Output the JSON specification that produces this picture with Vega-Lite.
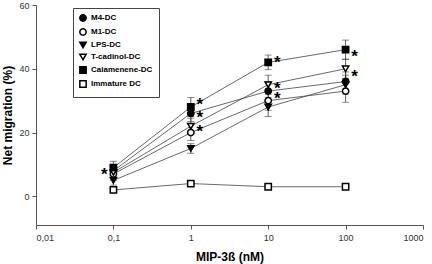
{
  "$schema": "https://vega.github.io/schema/vega-lite/v6.json",
  "width": 387,
  "height": 220,
  "autosize": {"type": "none"},
  "padding": {"left": 36, "top": 5, "right": 9, "bottom": 39},
  "background": "white",
  "config": {"view": {"stroke": null}, "font": "Liberation Sans"},
  "datasets": {
    "pts": [
      {"series": "M4-DC", "conc": 0.1, "value": 8, "err": 2},
      {"series": "M4-DC", "conc": 1, "value": 26, "err": 2.5},
      {"series": "M4-DC", "conc": 10, "value": 33, "err": 3},
      {"series": "M4-DC", "conc": 100, "value": 36, "err": 3},
      {"series": "M1-DC", "conc": 0.1, "value": 7, "err": 2},
      {"series": "M1-DC", "conc": 1, "value": 20, "err": 2.5},
      {"series": "M1-DC", "conc": 10, "value": 30, "err": 3},
      {"series": "M1-DC", "conc": 100, "value": 33, "err": 3.5},
      {"series": "LPS-DC", "conc": 0.1, "value": 5, "err": 1.5},
      {"series": "LPS-DC", "conc": 1, "value": 15, "err": 1.5},
      {"series": "LPS-DC", "conc": 10, "value": 28, "err": 3},
      {"series": "LPS-DC", "conc": 100, "value": 35, "err": 3},
      {"series": "T-cadinol-DC", "conc": 0.1, "value": 7.5, "err": 2},
      {"series": "T-cadinol-DC", "conc": 1, "value": 22, "err": 2.5},
      {"series": "T-cadinol-DC", "conc": 10, "value": 35, "err": 3},
      {"series": "T-cadinol-DC", "conc": 100, "value": 40, "err": 3},
      {"series": "Calamenene-DC", "conc": 0.1, "value": 9, "err": 2},
      {"series": "Calamenene-DC", "conc": 1, "value": 28, "err": 3},
      {"series": "Calamenene-DC", "conc": 10, "value": 42, "err": 2.3},
      {"series": "Calamenene-DC", "conc": 100, "value": 46, "err": 3},
      {"series": "Immature DC", "conc": 0.1, "value": 2, "err": 0.5},
      {"series": "Immature DC", "conc": 1, "value": 4, "err": 0.5},
      {"series": "Immature DC", "conc": 10, "value": 3, "err": 0.5},
      {"series": "Immature DC", "conc": 100, "value": 3, "err": 0.5}
    ],
    "stars": [
      {"conc": 1, "value": 30.5, "side": "right"},
      {"conc": 1, "value": 26.3, "side": "right"},
      {"conc": 1, "value": 22.2, "side": "right"},
      {"conc": 10, "value": 43.6, "side": "right"},
      {"conc": 10, "value": 35.6, "side": "right"},
      {"conc": 10, "value": 32.4, "side": "right"},
      {"conc": 100, "value": 45.6, "side": "right"},
      {"conc": 100, "value": 39.4, "side": "right"},
      {"conc": 0.1, "value": 8.6, "side": "left"}
    ]
  },
  "layer": [
    {
      "data": {"name": "pts"},
      "transform": [
        {"calculate": "datum.value - datum.err", "as": "lo"},
        {"calculate": "datum.value + datum.err", "as": "hi"}
      ],
      "layer": [
        {
          "mark": {"type": "rule", "color": "#333", "strokeWidth": 0.8},
          "encoding": {
            "x": {"field": "conc", "type": "quantitative"},
            "y": {"field": "lo", "type": "quantitative"},
            "y2": {"field": "hi"}
          }
        },
        {
          "mark": {"type": "tick", "color": "#333", "size": 7, "thickness": 0.8, "orient": "horizontal"},
          "encoding": {
            "x": {"field": "conc", "type": "quantitative"},
            "y": {"field": "lo", "type": "quantitative"}
          }
        },
        {
          "mark": {"type": "tick", "color": "#333", "size": 7, "thickness": 0.8, "orient": "horizontal"},
          "encoding": {
            "x": {"field": "conc", "type": "quantitative"},
            "y": {"field": "hi", "type": "quantitative"}
          }
        }
      ]
    },
    {
      "data": {"name": "pts"},
      "mark": {"type": "line", "color": "#444", "strokeWidth": 0.8},
      "encoding": {
        "x": {"field": "conc", "type": "quantitative"},
        "y": {"field": "value", "type": "quantitative"},
        "detail": {"field": "series"}
      }
    },
    {
      "data": {"name": "pts"},
      "mark": {"type": "point", "strokeWidth": 1.5, "opacity": 1, "size": 40},
      "encoding": {
        "x": {
          "field": "conc", "type": "quantitative",
          "scale": {"type": "log", "domain": [0.01, 1000], "nice": false},
          "axis": {
            "values": [0.01, 0.1, 1, 10, 100, 1000],
            "labelExpr": "replace(format(datum.value, '~g'), '.', ',')",
            "title": "MIP-3ß (nM)",
            "titleFontSize": 12, "titleFontWeight": "bold", "titlePadding": 9,
            "labelFontSize": 9, "labelColor": "#333", "labelPadding": 4,
            "grid": false, "domainColor": "#555", "tickColor": "#555", "tickSize": 4
          }
        },
        "y": {
          "field": "value", "type": "quantitative",
          "scale": {"domain": [-9, 60], "nice": false, "zero": false},
          "axis": {
            "values": [0, 10, 20, 30, 40, 50, 60],
            "title": "Net migration (%)",
            "titleFontSize": 12, "titleFontWeight": "bold", "titlePadding": 4,
            "labelFontSize": 9, "labelColor": "#333", "labelPadding": 3,
            "grid": false, "domainColor": "#555", "tickColor": "#555", "tickSize": 4
          }
        },
        "shape": {
          "field": "series", "type": "nominal",
          "scale": {
            "domain": ["M4-DC", "M1-DC", "LPS-DC", "T-cadinol-DC", "Calamenene-DC", "Immature DC"],
            "range": ["circle", "circle", "triangle-down", "triangle-down", "square", "square"]
          },
          "legend": {
            "title": null, "orient": "none", "legendX": 37, "legendY": 3,
            "strokeColor": "#444", "padding": 6, "labelFontSize": 8, "labelFontWeight": "bold",
            "symbolSize": 40, "symbolStrokeWidth": 1.5, "rowPadding": 0
          }
        },
        "fill": {
          "field": "series", "type": "nominal",
          "scale": {
            "domain": ["M4-DC", "M1-DC", "LPS-DC", "T-cadinol-DC", "Calamenene-DC", "Immature DC"],
            "range": ["black", "white", "black", "white", "black", "white"]
          }
        },
        "stroke": {
          "field": "series", "type": "nominal",
          "scale": {
            "domain": ["M4-DC", "M1-DC", "LPS-DC", "T-cadinol-DC", "Calamenene-DC", "Immature DC"],
            "range": ["black", "black", "black", "black", "black", "black"]
          }
        }
      }
    },
    {
      "data": {"name": "stars"},
      "transform": [{"filter": "datum.side == 'right'"}],
      "mark": {"type": "text", "text": "*", "fontSize": 17, "fontWeight": "bold", "dx": 9, "dy": 6, "align": "center"},
      "encoding": {
        "x": {"field": "conc", "type": "quantitative"},
        "y": {"field": "value", "type": "quantitative"}
      }
    },
    {
      "data": {"name": "stars"},
      "transform": [{"filter": "datum.side == 'left'"}],
      "mark": {"type": "text", "text": "*", "fontSize": 17, "fontWeight": "bold", "dx": -9, "dy": 6, "align": "center"},
      "encoding": {
        "x": {"field": "conc", "type": "quantitative"},
        "y": {"field": "value", "type": "quantitative"}
      }
    }
  ]
}
